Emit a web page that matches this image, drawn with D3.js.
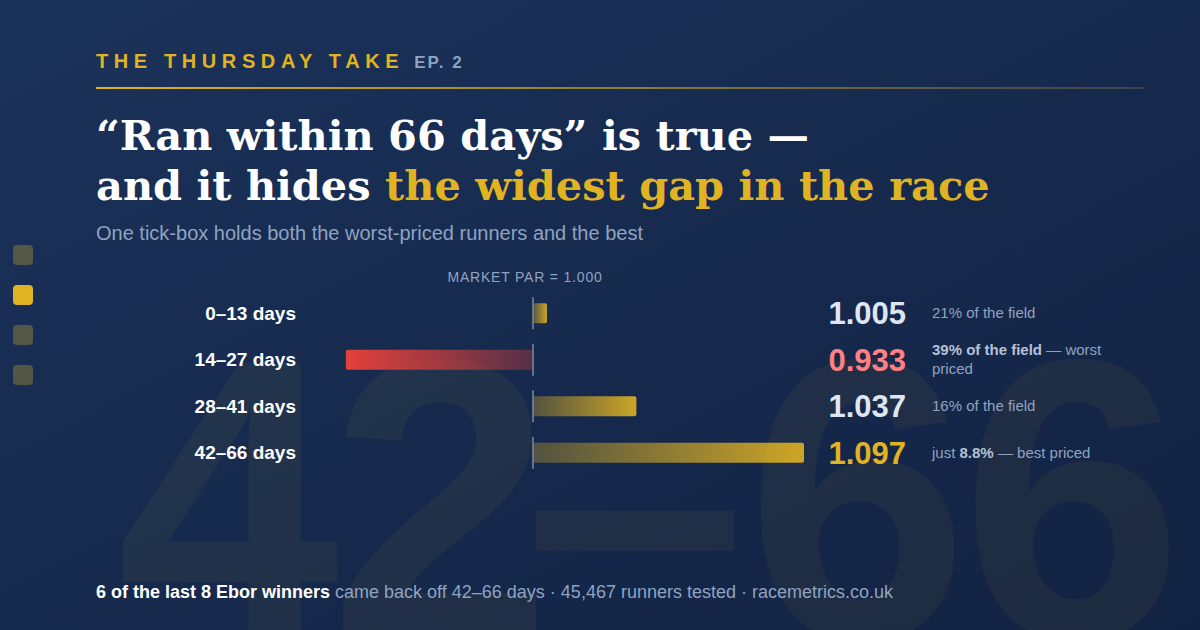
<!DOCTYPE html>
<html>
<head>
<meta charset="utf-8">
<script src="https://cdn.jsdelivr.net/npm/d3@7"></script>
<style>
  html, body { margin: 0; padding: 0; background: #16294b; }
  svg { display: block; }
</style>
</head>
<body>
<svg width="1200" height="630"></svg>
<script>
const bands = ["0–13 days", "14–27 days", "28–41 days", "42–66 days"];
const ratios = [1.005, 0.933, 1.037, 1.097];
const notes = [
  [["21% of the field", false]],
  [["39% of the field", true], [" — worst priced", false]],
  [["16% of the field", false]],
  [["just ", false], ["8.8%", true], [" — best priced", false]]
];
const par = 1.000;
const navDots = [0, 1, 2, 3];
const activeDot = 1;

const GOLD = "#e0b323", MUTED = "#8fa3c0", SANS = "'Liberation Sans', Arial, sans-serif";

let svg = d3.select("svg"),
  width = +svg.attr("width"),
  height = +svg.attr("height");

let defs = svg.append("defs");

let bg = defs.append("linearGradient").attr("id", "bg")
  .attr("x1", 0).attr("y1", 0).attr("x2", 1).attr("y2", 1);
bg.append("stop").attr("offset", "0%").attr("stop-color", "#1b325a");
bg.append("stop").attr("offset", "100%").attr("stop-color", "#122242");

let rule = defs.append("linearGradient").attr("id", "rule");
rule.append("stop").attr("offset", "0%").attr("stop-color", GOLD);
rule.append("stop").attr("offset", "100%").attr("stop-color", "#3a4250");

let up = defs.append("linearGradient").attr("id", "up");
up.append("stop").attr("offset", "0%").attr("stop-color", GOLD).attr("stop-opacity", 0.3);
up.append("stop").attr("offset", "100%").attr("stop-color", GOLD).attr("stop-opacity", 0.9);

let down = defs.append("linearGradient").attr("id", "down");
down.append("stop").attr("offset", "0%").attr("stop-color", "#e5403a").attr("stop-opacity", 1);
down.append("stop").attr("offset", "100%").attr("stop-color", "#e5403a").attr("stop-opacity", 0.3);

svg.append("rect").attr("width", width).attr("height", height).attr("fill", "url(#bg)");

// giant watermark of the winning band
svg.append("text")
  .attr("x", 117).attr("y", 638)
  .attr("dx", "0 -2 -20 8 0")
  .attr("font-family", SANS).attr("font-weight", 700)
  .attr("font-size", 400).attr("letter-spacing", "-8px")
  .attr("fill", GOLD).attr("fill-opacity", 0.06)
  .text("42–66");

// slide dots on the left edge
svg.append("g").selectAll("rect")
  .data(navDots)
  .enter().append("rect")
  .attr("x", 13).attr("y", (d) => 245 + d * 40)
  .attr("width", 20).attr("height", 20).attr("rx", 4)
  .attr("fill", GOLD)
  .attr("fill-opacity", (d) => d === activeDot ? 1 : 0.3);

// header
let head = svg.append("text")
  .attr("x", 96).attr("y", 68)
  .attr("font-family", SANS).attr("font-weight", 700);
head.append("tspan")
  .attr("font-size", 20).attr("letter-spacing", "5.6px").attr("fill", GOLD)
  .text("THE THURSDAY TAKE");
head.append("tspan")
  .attr("dx", 10)
  .attr("font-size", 17).attr("letter-spacing", "2px").attr("fill", MUTED)
  .text("EP. 2");

svg.append("rect")
  .attr("x", 96).attr("y", 87).attr("width", 1048).attr("height", 2)
  .attr("fill", "url(#rule)");

// headline
let title = svg.append("text")
  .attr("font-family", "'DejaVu Serif', Georgia, serif").attr("font-weight", 700)
  .attr("font-size", 41.5).attr("fill", "#ffffff");
title.append("tspan").attr("x", 96).attr("y", 150).text("“Ran within 66 days” is true —");
title.append("tspan").attr("x", 96).attr("y", 200).text("and it hides ");
title.append("tspan").attr("fill", GOLD).text("the widest gap in the race");

svg.append("text")
  .attr("x", 96).attr("y", 240)
  .attr("font-family", SANS).attr("font-size", 20).attr("fill", MUTED)
  .text("One tick-box holds both the worst-priced runners and the best");

// chart
let x = d3.scaleLinear().domain([0.9, 1.1]).range([253.6, 812.4]);
let y = d3.scaleBand().domain(bands).range([290, 476]);
let barH = 20;

svg.append("text")
  .attr("x", x(par) - 8).attr("y", 282)
  .attr("text-anchor", "middle")
  .attr("font-family", SANS).attr("font-size", 14).attr("letter-spacing", "0.8px")
  .attr("fill", MUTED)
  .text("MARKET PAR = " + d3.format(".3f")(par));

let rows = svg.append("g").selectAll("g")
  .data(bands.map((b, i) => ({ band: b, ratio: ratios[i], note: notes[i] })))
  .enter().append("g")
  .attr("transform", (d) => "translate(0," + (y(d.band) + y.bandwidth() / 2) + ")");

rows.append("rect")
  .attr("x", (d) => Math.min(x(d.ratio), x(par)))
  .attr("y", -barH / 2)
  .attr("width", (d) => Math.abs(x(d.ratio) - x(par)))
  .attr("height", barH).attr("rx", 2)
  .attr("fill", (d) => d.ratio >= par ? "url(#up)" : "url(#down)");

rows.append("line")
  .attr("x1", x(par)).attr("x2", x(par))
  .attr("y1", -16).attr("y2", 16)
  .attr("stroke", "#7d8ba3").attr("stroke-width", 1.5);

rows.append("text")
  .attr("x", 296).attr("dy", "0.35em")
  .attr("text-anchor", "end")
  .attr("font-family", SANS).attr("font-weight", 700).attr("font-size", 19)
  .attr("fill", "#ffffff")
  .text((d) => d.band);

let lo = d3.min(ratios), hi = d3.max(ratios);
rows.append("text")
  .attr("x", 906).attr("dy", "0.36em")
  .attr("text-anchor", "end")
  .attr("font-family", SANS).attr("font-weight", 700).attr("font-size", 31)
  .attr("fill", (d) => d.ratio === lo ? "#ff8080" : d.ratio === hi ? GOLD : "#dde6f3")
  .text((d) => d3.format(".3f")(d.ratio));

// notes, wrapped at a fixed width
let noteW = 190, lineH = 19;
rows.append("text")
  .attr("font-family", SANS).attr("font-size", 15).attr("fill", MUTED)
  .each(function (d) {
    let t = d3.select(this);
    let words = [];
    d.note.forEach(([s, b]) => s.split(/(?= )/).forEach((w) => words.push([w, b])));
    let lines = [[]], probe = t.append("tspan");
    let cur = "";
    words.forEach(([w, b]) => {
      let test = cur + w;
      probe.attr("font-weight", 700).text(test);
      if (probe.node().getComputedTextLength() > noteW && cur !== "") {
        lines.push([[w.trimStart(), b]]);
        cur = w.trimStart();
      } else {
        lines[lines.length - 1].push([w, b]);
        cur = test;
      }
    });
    probe.remove();
    let top = -(lines.length - 1) * lineH / 2;
    lines.forEach((ln, li) => {
      ln.forEach(([w, b], wi) => {
        let sp = t.append("tspan").text(w)
          .attr("font-weight", b ? 700 : 400)
          .attr("fill", b ? "#b4c2d6" : MUTED);
        if (wi === 0) sp.attr("x", 932).attr("y", top + li * lineH + 5);
      });
    });
  });

// footer
let foot = svg.append("text")
  .attr("x", 96).attr("y", 598)
  .attr("font-family", SANS).attr("font-size", 18).attr("fill", MUTED);
foot.append("tspan").attr("font-weight", 700).attr("fill", "#ffffff").text("6 of the last 8 Ebor winners");
foot.append("tspan").text(" came back off 42–66 days · 45,467 runners tested · racemetrics.co.uk");
</script>
</body>
</html>
